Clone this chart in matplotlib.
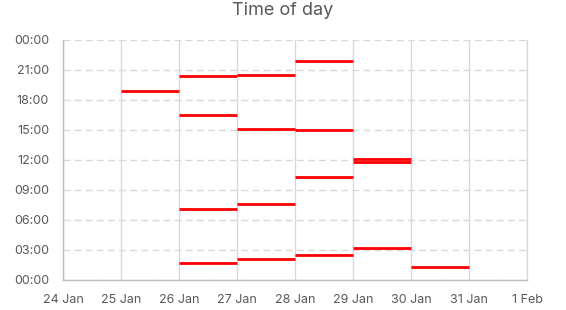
import matplotlib
matplotlib.use("Agg")
import matplotlib.pyplot as plt
import datetime as dt

plt.rcParams['font.family'] = ['Inter', 'DejaVu Sans']

# Each event: day it starts (segment spans one day) and time of day in hours
event_days = ["2024-01-25",
              "2024-01-26", "2024-01-26", "2024-01-26", "2024-01-26",
              "2024-01-27", "2024-01-27", "2024-01-27", "2024-01-27",
              "2024-01-28", "2024-01-28", "2024-01-28", "2024-01-28",
              "2024-01-29", "2024-01-29", "2024-01-29",
              "2024-01-30"]
event_hours = [18.93,
               20.43, 16.53, 7.1, 1.73,
               20.53, 15.13, 7.63, 2.13,
               21.93, 15.03, 10.33, 2.5,
               12.13, 11.8, 3.23,
               1.33]
x_tick_labels = ["24 Jan", "25 Jan", "26 Jan", "27 Jan", "28 Jan",
                 "29 Jan", "30 Jan", "31 Jan", "1 Feb"]
y_tick_labels = ["00:00", "03:00", "06:00", "09:00", "12:00",
                 "15:00", "18:00", "21:00", "00:00"]

fig = plt.figure(figsize=(5.66, 3.10), dpi=100)
ax = fig.add_axes([63/566, 30/310, (527-63)/566, 240/310])

start = dt.date(2024, 1, 24)
for d, h in zip(event_days, event_hours):
    d0 = dt.datetime.strptime(d, "%Y-%m-%d")
    d1 = d0 + dt.timedelta(days=1)
    ax.plot([d0, d1], [h, h], color="#FF0000", lw=2, solid_capstyle="butt", zorder=3)

xticks = [start + dt.timedelta(days=i) for i in range(len(x_tick_labels))]
ax.set_xlim(xticks[0], xticks[-1])
ax.set_xticks(xticks)
ax.set_xticklabels(x_tick_labels)
ax.set_ylim(0, 24)
ax.set_yticks([3 * i for i in range(len(y_tick_labels))])
ax.set_yticklabels(y_tick_labels)

ax.xaxis.grid(True, color="#D9D9D9", lw=1, ls="-")
ax.yaxis.grid(True, color="#D9D9D9", lw=1, ls=(0, (5, 3)))
ax.set_axisbelow(True)
ax.spines["top"].set_visible(False)
ax.spines["right"].set_color("#D9D9D9")
ax.spines["right"].set_linewidth(1)
for s in ["left", "bottom"]:
    ax.spines[s].set_color("#BFBFBF")
    ax.spines[s].set_linewidth(1)
ax.tick_params(axis="both", length=0, colors="#595959", labelsize=9)
ax.tick_params(axis="y", pad=10)
ax.tick_params(axis="x", pad=10)

fig.suptitle("Time of day", x=0.5, y=1 - 2/310, va="top",
             fontsize=13, color="#595959")

fig.savefig("out.png", dpi=100)
